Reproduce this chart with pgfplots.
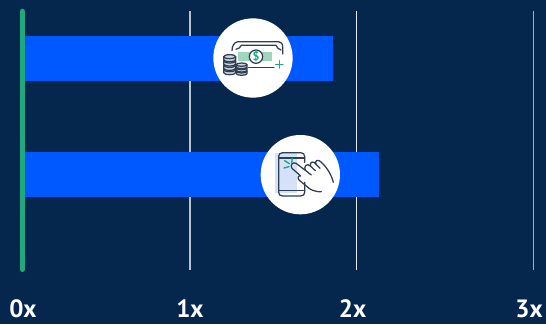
\documentclass[border=0pt]{standalone}
\usepackage{fontspec}
\setmainfont{PT Sans}
\usepackage{pgfplots}
\pgfplotsset{compat=1.18}
\definecolor{pagebg}{HTML}{06274D}
\definecolor{barblue}{HTML}{0059FF}
\definecolor{basegreen}{HTML}{1FA97F}
\definecolor{iconink}{HTML}{2F3E50}
\definecolor{iconmint}{HTML}{A0D6BF}
\definecolor{iconcoin}{HTML}{CDD5E0}
\definecolor{iconsky}{HTML}{D5E1F9}
\definecolor{icongreen}{HTML}{1FA97F}
% one coin of a stack: centre x, top y, half width, half height of the rim, thickness
\newcommand{\coin}[5]{%
  \draw[fill=iconcoin] ({#1-#3},#2) -- ({#1-#3},{#2+#5})
    arc[start angle=180, end angle=0, x radius=#3, y radius=#4] -- ({#1+#3},#2)
    arc[start angle=0, end angle=-180, x radius=#3, y radius=#4] -- cycle;
  \draw ({#1-#3},#2) arc[start angle=180, end angle=0, x radius=#3, y radius=#4];
}
\begin{document}
\begin{tikzpicture}[x=1pt,y=1pt]
\useasboundingbox (0,0) rectangle (546,324);
\begin{axis}[
  at={(0pt,0pt)}, anchor=south west,
  scale only axis, width=546pt, height=324pt,
  xmin=-0.13353, xmax=3.13593,
  ymin=0, ymax=324, y dir=reverse,
  axis background/.style={fill=pagebg},
  axis line style={draw=none},
  major tick length=0pt,
  ytick=\empty,
  xtick={0.004,1.004,1.978,3.034},
  xticklabels={0x,1x,2x,3x},
  /pgf/number format/assume math mode=true,
  x tick label style={font=\bfseries\fontsize{25}{25}\selectfont, text=white, anchor=base, yshift=6.5pt},
  clip=false,
]
% reference lines for each multiple
\addplot[white!72!pagebg, line width=1.3pt] coordinates {(1.0042,11) (1.0042,269.5)};
\addplot[white!90!pagebg, line width=1.1pt] coordinates {(2.0012,11) (2.0012,269.5)};
\addplot[white!62!pagebg, line width=1.3pt] coordinates {(3.0611,11) (3.0611,269.5)};
% the two multiples
\addplot[xbar, bar shift=0pt, bar width=45.2pt, fill=barblue, draw=none] coordinates {(1.86,58.4)};
\addplot[xbar, bar shift=0pt, bar width=45.2pt, fill=barblue, draw=none] coordinates {(2.135,174.2)};
% baseline
\addplot[basegreen, line width=5.2pt, line cap=round] coordinates {(0,11.3) (0,269.4)};
\end{axis}

% money icon
\begin{scope}[shift={(200pt,314pt)}, x=0.3333pt, y=-0.3333pt]
  \fill[white] (159,144) circle[x radius=119, y radius=119];
  \begin{scope}[line width=1.25pt, iconink, line cap=round, line join=round]
    \draw (96,122) .. controls (96,108) and (102,97) .. (114,95) -- (236,95) .. controls (244,95) and (248,102) .. (248,112) -- (248,132);
    \draw (108,118) .. controls (116,116) and (122,112) .. (124,106) -- (228,106) .. controls (230,112) and (236,118) .. (243,120);
    \draw (146,172) -- (222,172);
    \fill[iconmint] (114,127) rectangle (216,153);
    \draw[fill=white] (168,140) circle[x radius=20, y radius=20];
    \node[icongreen, font=\bfseries\fontsize{12}{12}\selectfont] at (168,140) {\$};
    \draw[icongreen, line width=1.5pt] (238,152) -- (238,174) (227,163) -- (249,163);
    \coin{89}{179}{18}{6}{9}
    \coin{89}{166}{18}{6}{9}
    \coin{89}{153}{18}{6}{9}
    \coin{89}{140}{18}{6}{9}
    \coin{125}{184}{16}{5}{7}
    \coin{125}{174}{16}{5}{7}
    \coin{125}{164}{16}{5}{7}
  \end{scope}
\end{scope}

% touch-screen icon
\begin{scope}[shift={(250pt,199pt)}, x=0.3333pt, y=-0.3333pt]
  \fill[white] (151,149) circle[x radius=119, y radius=119];
  \fill[iconsky] (75,85) rectangle (142,205);
  \begin{scope}[line width=1.25pt, iconink, line cap=round, line join=round]
    \draw (98,83) -- (152,83) .. controls (160,83) and (164,88) .. (164,95) -- (164,112);
    \draw (164,172) -- (164,202) .. controls (164,209) and (160,213) .. (152,213) -- (98,213) .. controls (90,213) and (86,209) .. (86,202) -- (86,95) .. controls (86,88) and (90,83) .. (98,83);
    \draw (86,99) -- (164,99) (86,197) -- (164,197);
    \draw (138,115) -- (166,136) .. controls (160,124) and (172,112) .. (182,124) .. controls (176,110) and (192,106) .. (198,118) .. controls (194,106) and (204,102) .. (212,110) .. controls (230,126) and (244,148) .. (250,172);
    \draw (138,115) .. controls (128,110) and (119,120) .. (126,130) -- (152,153) .. controls (146,150) and (140,160) .. (148,166) -- (180,192) .. controls (190,198) and (204,201) .. (214,200);
    \draw (166,136) -- (184,150) (182,124) -- (196,137) (198,118) -- (210,130);
    \draw[icongreen, line width=1.4pt] (127,100) -- (125,113) (104,107) -- (118,116) (102,129) -- (117,125);
  \end{scope}
\end{scope}
\end{tikzpicture}
\end{document}
